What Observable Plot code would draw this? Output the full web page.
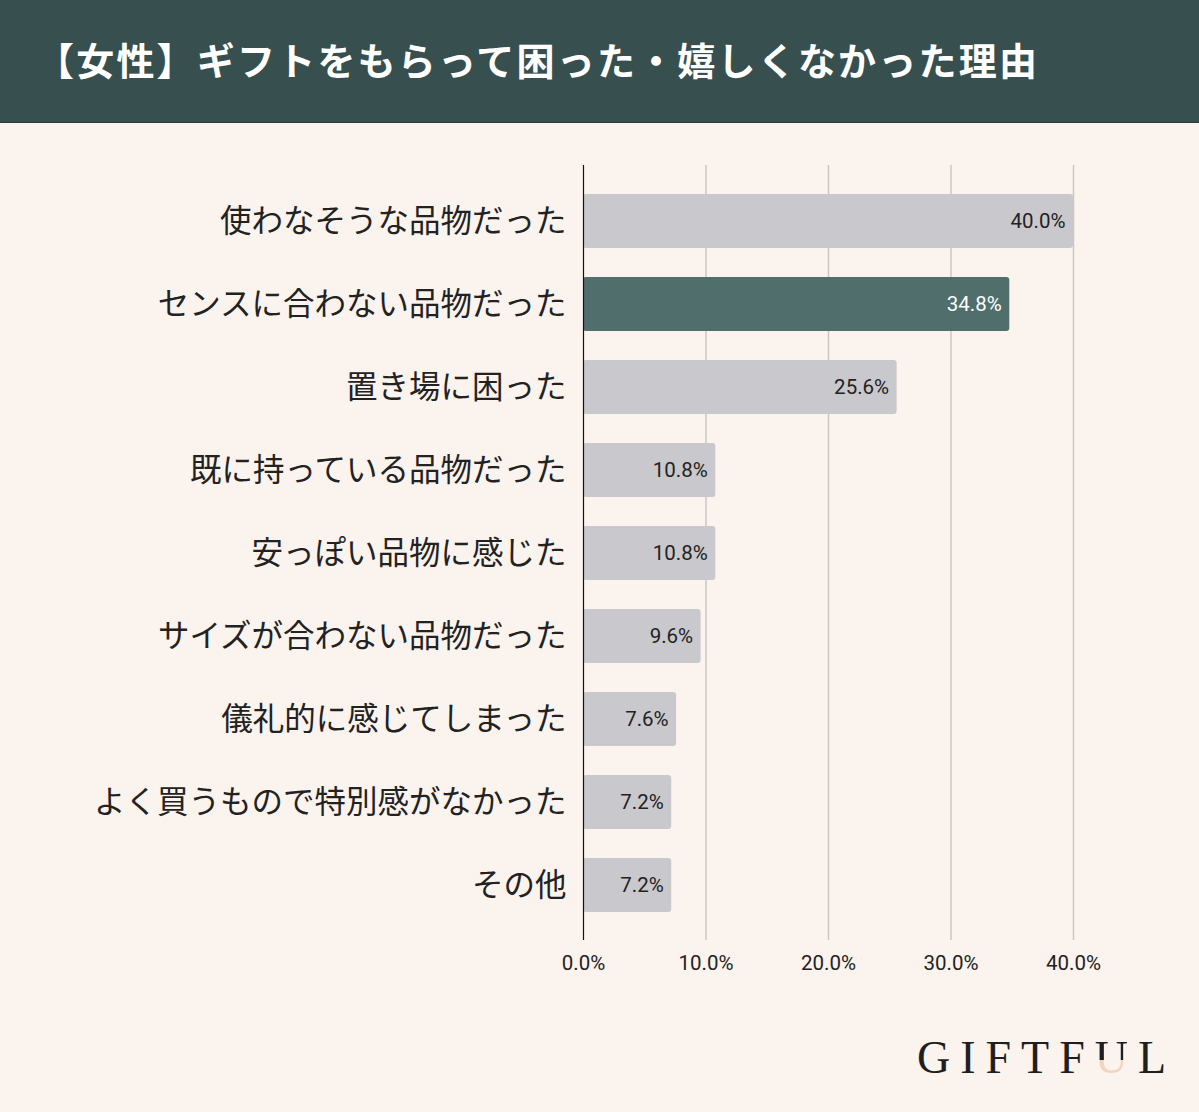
<!DOCTYPE html>
<html>
<head>
<meta charset="utf-8">
<script src="https://cdn.jsdelivr.net/npm/d3@7"></script>
<script src="https://cdn.jsdelivr.net/npm/@observablehq/plot@0.6"></script>
<style>
  html, body { margin: 0; padding: 0; }
  body { width: 1199px; height: 1112px; background: #fbf3ee; position: relative; overflow: hidden; font-family: "Noto Sans CJK JP", "Noto Sans", sans-serif; }
  #header { position: absolute; left: 0; top: 0; width: 1199px; height: 123px; background: #37504f; border-bottom: 1px solid #2c3f3e; box-sizing: border-box; }
  #header h1 { margin: 0; position: absolute; left: 36px; top: 33px; font-size: 38px; line-height: 52px; color: #ffffff; font-weight: 700; letter-spacing: 2.2px; white-space: nowrap; }
  #chart { position: absolute; left: 0; top: 123px; }
  #logo { position: absolute; left: 917px; top: 1031px; font-family: "Liberation Serif", "DejaVu Serif", serif; font-size: 46px; letter-spacing: 10px; color: #1f1f1f; font-weight: 400; white-space: nowrap; }
  #logo .u { background: linear-gradient(#1f1f1f 0%, #1f1f1f 55%, #f2d5bd 55%, #f2d5bd 100%); -webkit-background-clip: text; background-clip: text; color: transparent; }
</style>
</head>
<body>
<div id="header"><h1>【女性】ギフトをもらって困った・嬉しくなかった理由</h1></div>
<div id="chart"></div>
<div id="logo">GIFTF<span class="u">U</span>L</div>
<script>
const categories = [
  "使わなそうな品物だった",
  "センスに合わない品物だった",
  "置き場に困った",
  "既に持っている品物だった",
  "安っぽい品物に感じた",
  "サイズが合わない品物だった",
  "儀礼的に感じてしまった",
  "よく買うもので特別感がなかった",
  "その他"
];
const values = [40.0, 34.8, 25.6, 10.8, 10.8, 9.6, 7.6, 7.2, 7.2];
const highlighted = ["センスに合わない品物だった"];
const xTicks = [0, 10, 20, 30, 40];

const data = categories.map((c, i) => ({category: c, value: values[i], hi: highlighted.includes(c)}));

const numFont = "Roboto, 'Noto Sans', sans-serif";

const chart = Plot.plot({
  width: 1199,
  height: 989,
  marginLeft: 583,
  marginRight: 126,
  marginTop: 42,
  marginBottom: 172,
  style: {background: "transparent", fontFamily: "'Noto Sans CJK JP', 'Noto Sans', sans-serif", color: "#222"},
  x: {domain: [0, 40]},
  y: {domain: categories, paddingInner: 0.35, paddingOuter: 0.34},
  marks: [
    Plot.gridX(xTicks.slice(1), {stroke: "#cdc6c4", strokeOpacity: 1, strokeWidth: 1.5}),
    Plot.barX(data, {x: "value", y: "category", fill: d => d.hi ? "#506e6b" : "#c9c8cc", rx: 3}),
    Plot.ruleX([0], {stroke: "#111", strokeWidth: 1.2}),
    Plot.text(data, {x: "value", y: "category", text: d => d.value.toFixed(1) + "%", textAnchor: "end", dx: -8, fill: d => d.hi ? "#ffffff" : "#222", fontSize: 20.5, fontFamily: numFont}),
    Plot.axisX({ticks: xTicks, tickFormat: d => d.toFixed(1) + "%", tickSize: 0, tickPadding: 15, fontSize: 20.5, fontFamily: numFont, label: null, fill: "#222"}),
    Plot.axisY({tickSize: 0, tickPadding: 17, fontSize: 31.5, label: null, fill: "#222"})
  ]
});
document.getElementById("chart").appendChild(chart);
</script>
</body>
</html>
